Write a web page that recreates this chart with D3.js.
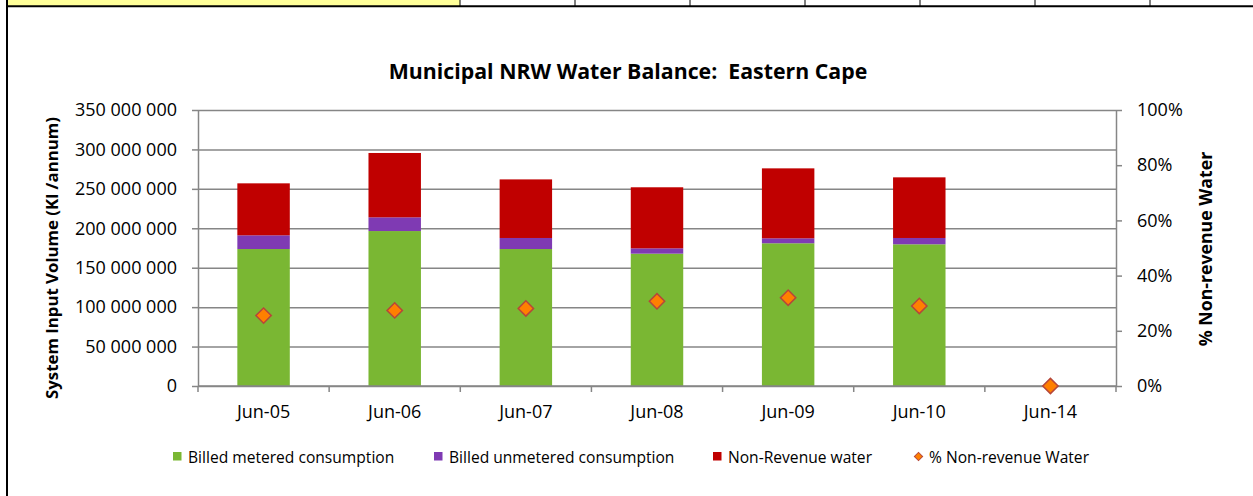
<!DOCTYPE html>
<html>
<head>
<meta charset="utf-8">
<script src="https://cdn.jsdelivr.net/npm/d3@7"></script>
<style>
    body { margin: 0; background: #fff; }
    svg text { font-family: "Open Sans", "Noto Sans", sans-serif; fill: #000; }
    .axis path, .axis line { stroke: #868686; stroke-width: 1.5; }
    .grid line { stroke: #868686; stroke-width: 1.5; }
    .grid path { display: none; }
</style>
</head>
<body>
<div id="chart"></div>
<script>
// ---- data ----
const categories = ["Jun-05", "Jun-06", "Jun-07", "Jun-08", "Jun-09", "Jun-10", "Jun-14"];
const billedMetered = [173.7e6, 196.5e6, 173.7e6, 167.8e6, 181.0e6, 179.7e6, 0];
const billedUnmetered = [17.4e6, 17.4e6, 14.0e6, 6.8e6, 6.3e6, 8.0e6, 0];
const nonRevenue = [65.9e6, 81.6e6, 74.3e6, 77.4e6, 88.7e6, 76.9e6, 0];
const pctNonRevenue = [0.255, 0.274, 0.281, 0.307, 0.320, 0.290, 0];
const yTicks = [0, 50e6, 100e6, 150e6, 200e6, 250e6, 300e6, 350e6];
const pctTicks = [0, 0.2, 0.4, 0.6, 0.8, 1.0];
const seriesNames = ["Billed metered consumption", "Billed unmetered consumption", "Non-Revenue water", "% Non-revenue Water"];
const seriesColors = ["#7ab733", "#7f3ab3", "#c00000", "#ff8000"];
const topCells = [460, 575, 690, 805, 920, 1035, 1150];

const W = 1253, H = 496;
const plot = { left: 198, right: 1116, top: 110, bottom: 386 };

const svg = d3.select("#chart").append("svg")
    .attr("width", W)
    .attr("height", H);

// spreadsheet bits around the chart
svg.append("rect").attr("x", 8).attr("y", 0).attr("width", 452).attr("height", 6).attr("fill", "#ffff99");
topCells.forEach(cx => {
    svg.append("line").attr("x1", cx).attr("x2", cx).attr("y1", 0).attr("y2", 6)
        .attr("stroke", "#000").attr("stroke-width", 1);
});
svg.append("line").attr("x1", 6).attr("x2", W).attr("y1", 6.2).attr("y2", 6.2)
    .attr("stroke", "#000").attr("stroke-width", 2);
svg.append("line").attr("x1", 7).attr("x2", 7).attr("y1", 0).attr("y2", H)
    .attr("stroke", "#000").attr("stroke-width", 2);

// scales
const x = d3.scaleBand()
    .domain(categories)
    .range([plot.left, plot.right])
    .paddingInner(0.6)
    .paddingOuter(0.3);

const y = d3.scaleLinear()
    .domain([0, 350e6])
    .range([plot.bottom, plot.top]);

const yPct = d3.scaleLinear()
    .domain([0, 1])
    .range([plot.bottom, plot.top]);

// gridlines
svg.append("g")
    .attr("class", "grid")
    .attr("transform", `translate(${plot.left},0)`)
    .call(d3.axisLeft(y).tickValues(yTicks).tickSize(-(plot.right - plot.left)).tickFormat(""));

// stacked bars
const stackData = categories.map((c, i) => ({
    cat: c,
    metered: billedMetered[i],
    unmetered: billedUnmetered[i],
    nrw: nonRevenue[i]
}));
const stack = d3.stack().keys(["metered", "unmetered", "nrw"]);
const layers = stack(stackData);

svg.append("g").selectAll("g")
    .data(layers)
    .join("g")
    .attr("fill", (d, i) => seriesColors[i])
    .selectAll("rect")
    .data(d => d)
    .join("rect")
    .attr("x", d => x(d.data.cat))
    .attr("y", d => y(d[1]))
    .attr("width", x.bandwidth())
    .attr("height", d => y(d[0]) - y(d[1]));

// left axis
const fmt = d => d3.format(",")(d).replace(/,/g, " ");
const yAxisG = svg.append("g")
    .attr("class", "axis")
    .attr("transform", `translate(${plot.left},0)`)
    .call(d3.axisLeft(y).tickValues(yTicks).tickSize(6).tickSizeOuter(0).tickPadding(15).tickFormat(fmt));
yAxisG.selectAll("text").style("font-size", "18px");

// right axis
const rAxisG = svg.append("g")
    .attr("class", "axis")
    .attr("transform", `translate(${plot.right},0)`)
    .call(d3.axisRight(yPct).tickValues(pctTicks).tickSize(6).tickSizeOuter(0).tickPadding(15).tickFormat(d3.format(".0%")));
rAxisG.selectAll("text").style("font-size", "18px");

// x axis: baseline, boundary ticks and labels
const xAxisG = svg.append("g").attr("class", "axis");
xAxisG.append("line")
    .attr("x1", plot.left).attr("x2", plot.right)
    .attr("y1", y(0)).attr("y2", y(0));
const bounds = categories.map(c => x(c) - x.step() * x.paddingInner() / 2)
    .concat([x(categories[categories.length - 1]) + x.bandwidth() + x.step() * x.paddingInner() / 2]);
xAxisG.selectAll(".xtick")
    .data(bounds)
    .join("line")
    .attr("class", "xtick")
    .attr("x1", d => d).attr("x2", d => d)
    .attr("y1", y(0)).attr("y2", y(0) + 6);
xAxisG.selectAll(".xlabel")
    .data(categories)
    .join("text")
    .attr("class", "xlabel")
    .attr("x", d => x(d) + x.bandwidth() / 2)
    .attr("y", y(0) + 32)
    .attr("text-anchor", "middle")
    .style("font-size", "18px")
    .text(d => d);

// % NRW markers
const diamond = d3.symbol().type(d3.symbolSquare).size(118);
svg.append("g").selectAll("path")
    .data(categories)
    .join("path")
    .attr("d", diamond)
    .attr("transform", (d, i) => `translate(${x(d) + x.bandwidth() / 2},${yPct(pctNonRevenue[i])}) rotate(45)`)
    .attr("fill", seriesColors[3])
    .attr("stroke", "#b6473a")
    .attr("stroke-width", 1.5);

// titles
svg.append("text")
    .attr("x", 628)
    .attr("y", 79)
    .attr("text-anchor", "middle")
    .style("font-size", "21.3px")
    .style("font-weight", "bold")
    .text("Municipal NRW Water Balance:\u00a0\u00a0Eastern Cape");

svg.append("text")
    .attr("transform", "translate(58,258) rotate(-90)")
    .attr("text-anchor", "middle")
    .style("font-size", "16.8px")
    .style("font-weight", "bold")
    .text("System Input Volume (Kl /annum)");

svg.append("text")
    .attr("transform", "translate(1212,249) rotate(-90)")
    .attr("text-anchor", "middle")
    .style("font-size", "17.7px")
    .style("font-weight", "bold")
    .text("% Non-revenue Water");

// legend
const legendX = [173, 434, 713, 914];
const legend = svg.append("g");
seriesNames.forEach((name, i) => {
    const g = legend.append("g").attr("transform", `translate(${legendX[i]},456.5)`);
    if (i < 3) {
        g.append("rect").attr("x", 0).attr("y", -4.5).attr("width", 8.5).attr("height", 8.5)
            .attr("fill", seriesColors[i]);
    } else {
        g.append("path")
            .attr("d", d3.symbol().type(d3.symbolSquare).size(34))
            .attr("transform", "translate(4.5,0) rotate(45)")
            .attr("fill", seriesColors[3])
            .attr("stroke", "#b6473a")
            .attr("stroke-width", 1);
    }
    g.append("text")
        .attr("x", 15)
        .attr("y", 6)
        .style("font-size", "15.6px")
        .text(name);
});
</script>
</body>
</html>
